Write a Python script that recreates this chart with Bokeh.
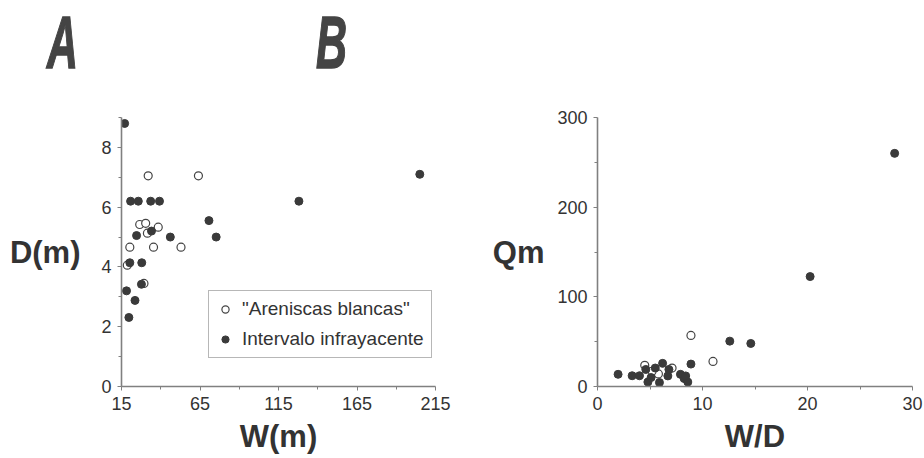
from bokeh.plotting import figure
from bokeh.layouts import row, column
from bokeh.models import Legend, LegendItem, Range1d, FixedTicker, Div
from bokeh.embed import file_html
from bokeh.resources import INLINE

# ---------- Panel A: D(m) vs W(m) ----------
a_ticks_x = [15, 65, 115, 165, 215]
a_ticks_y = [0, 2, 4, 6, 8]
a_open_w = [32, 64, 26.6, 30.4, 31.5, 38.4, 20.3, 35.4, 52.9, 18.7, 29.3]
a_open_d = [7.05, 7.05, 5.42, 5.46, 5.13, 5.33, 4.66, 4.66, 4.66, 4.06, 3.45]
a_fill_w = [17, 20.8, 25.7, 33.6, 39.2, 128, 205, 70.7, 75.3, 46.1, 24.6, 34.1,
            20.3, 27.9, 27.7, 18.2, 23.6, 19.7]
a_fill_d = [8.8, 6.2, 6.2, 6.2, 6.2, 6.2, 7.1, 5.55, 5.0, 5.0, 5.05, 5.2,
            4.14, 4.14, 3.42, 3.2, 2.88, 2.31]

# ---------- Panel B: Qm vs W/D ----------
b_ticks_x = [0, 10, 20, 30]
b_ticks_y = [0, 100, 200, 300]
b_open_wd = [8.9, 11.0, 4.5, 5.8, 7.1, 5.2]
b_open_qm = [57, 28, 23.6, 14, 20.5, 17]
b_fill_wd = [28.3, 20.25, 12.6, 14.6, 8.9, 1.96, 3.3, 4.0, 4.6, 4.8, 5.1, 5.5,
             5.9, 6.2, 6.7, 6.8, 7.9, 8.25, 8.6, 8.4]
b_fill_qm = [260, 122.6, 50.6, 48, 25, 13.6, 12, 12, 19, 5, 10, 20.6,
             4.4, 25.8, 11.8, 19, 13.6, 8.9, 5, 11.8]

labels = ['"Areniscas blancas"', "Intervalo infrayacente"]
panel_letters = ["A", "B"]

TXT = "#333333"
AX = "#808080"
MK = "#3a3a3a"
FONT = "Liberation Sans"


def style_axes(p, xl_standoff, yl_standoff):
    for ax in (p.xaxis[0], p.yaxis[0]):
        ax.axis_line_color = AX
        ax.axis_line_width = 1.6
        ax.major_tick_line_color = AX
        ax.minor_tick_line_color = AX
        ax.major_tick_out = 4
        ax.major_tick_in = 0
        ax.minor_tick_out = 3
        ax.minor_tick_in = 0
        ax.major_label_text_font = FONT
        ax.major_label_text_font_size = "18px"
        ax.major_label_text_color = TXT
        ax.major_label_standoff = 6
        ax.axis_label_text_font = FONT
        ax.axis_label_text_font_style = "bold"
        ax.axis_label_text_font_size = "31px"
        ax.axis_label_text_color = TXT
    p.xaxis[0].axis_label_standoff = xl_standoff
    p.yaxis[0].axis_label_standoff = yl_standoff
    p.yaxis[0].axis_label_orientation = "horizontal"
    p.xgrid.visible = False
    p.ygrid.visible = False
    p.outline_line_color = None


# Header with the panel letters
span = ('<span style="position:absolute;left:{left}px;top:6px;'
        'font:italic bold 74px \'Liberation Sans\';line-height:1;color:#444444;'
        '-webkit-text-stroke:1.5px #444444;'
        'transform:scaleX(0.58);transform-origin:0 0;">{t}</span>')
header_html = ('<div style="position:relative;width:924px;height:76px;">'
               + span.format(left=47, t=panel_letters[0])
               + span.format(left=316, t=panel_letters[1])
               + '</div>')
header = Div(text=header_html, width=924, height=76, margin=0)

# Panel A figure
pA = figure(width=488, height=382, output_backend="svg", toolbar_location=None,
            x_range=Range1d(15, 215), y_range=Range1d(0, 9),
            min_border_left=121, min_border_right=53, min_border_top=38,
            min_border_bottom=72, x_axis_label="W(m)", y_axis_label="D(m)")
pA.xaxis.ticker = FixedTicker(ticks=a_ticks_x, minor_ticks=[40, 90, 140, 190])
pA.yaxis.ticker = FixedTicker(ticks=a_ticks_y, minor_ticks=[1, 3, 5, 7, 9])
style_axes(pA, 6, 18)

rA_open = pA.scatter(a_open_w, a_open_d, size=8, marker="circle",
                     fill_color="white", line_color="#444444", line_width=1.2)
rA_fill = pA.scatter(a_fill_w, a_fill_d, size=8, marker="circle",
                     fill_color=MK, line_color=MK)

legend = Legend(items=[LegendItem(label=labels[0], renderers=[rA_open]),
                       LegendItem(label=labels[1], renderers=[rA_fill])],
                location=(87, 28), margin=0, padding=7, spacing=8,
                glyph_width=18, glyph_height=20, label_height=21,
                label_standoff=8,
                label_text_font=FONT, label_text_font_size="19px",
                label_text_color=TXT,
                border_line_color="#707070", border_line_width=1.5,
                background_fill_color="white", background_fill_alpha=1.0)
pA.add_layout(legend)

# Panel B figure
pB = figure(width=436, height=382, output_backend="svg", toolbar_location=None,
            x_range=Range1d(0, 30), y_range=Range1d(0, 300),
            min_border_left=109, min_border_right=12, min_border_top=41,
            min_border_bottom=70, x_axis_label="W/D", y_axis_label="Qm")
pB.xaxis.ticker = FixedTicker(ticks=b_ticks_x, minor_ticks=[5, 15, 25])
pB.yaxis.ticker = FixedTicker(ticks=b_ticks_y, minor_ticks=[50, 150, 250])
style_axes(pB, 6, 10)

pB.scatter(b_open_wd, b_open_qm, size=8, marker="circle",
           fill_color="white", line_color="#444444", line_width=1.2)
pB.scatter(b_fill_wd, b_fill_qm, size=8, marker="circle",
           fill_color=MK, line_color=MK)

layout = column(header, row(pA, pB))
open("out.html", "w").write(file_html(layout, INLINE))
